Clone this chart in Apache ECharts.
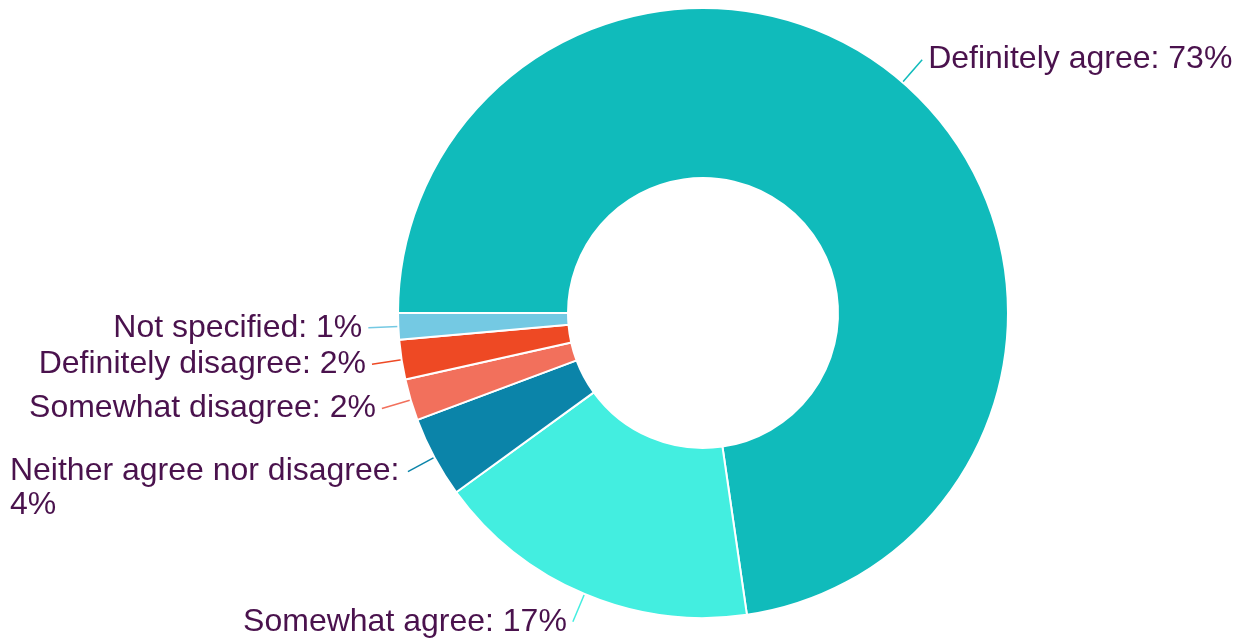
<!DOCTYPE html>
<html>
<head>
<meta charset="utf-8">
<script src="https://cdn.jsdelivr.net/npm/echarts@6/dist/echarts.min.js"></script>
<style>
  html, body { margin: 0; padding: 0; background: #ffffff; }
  #chart { width: 1237px; height: 644px; }
</style>
</head>
<body>
<div id="chart"></div>
<script>
// Survey responses (share of respondents, %)
const categories = [
  'Definitely agree',
  'Somewhat agree',
  'Neither agree nor disagree',
  'Somewhat disagree',
  'Definitely disagree',
  'Not specified'
];
const shares = [72.7, 17.3, 4.3, 2.2, 2.1, 1.4];
const sliceColors = ['#10BBBB', '#43EEE0', '#0B84A9', '#F2705C', '#EE4924', '#74C9E3'];
// Labels too long for the left margin are split after the colon
const twoLineLabels = ['Neither agree nor disagree'];

const FONT = '"Liberation Sans", Arial, sans-serif';
const TEXT_COLOR = '#4A124D';

const data = categories.map((name, i) => {
  const item = { name: name, value: shares[i], itemStyle: { color: sliceColors[i] } };
  if (twoLineLabels.indexOf(name) >= 0) {
    item.label = {
      formatter: p => '{w|' + p.name + ':}\n{w|' + Math.round(p.value) + '%}',
      padding: [34, 0, 0, 0],
      rich: {
        w: { width: 392, align: 'left', fontSize: 32, lineHeight: 34, color: TEXT_COLOR, fontFamily: FONT }
      }
    };
  }
  return item;
});

const chart = echarts.init(document.getElementById('chart'), null, { renderer: 'canvas' });
chart.setOption({
  backgroundColor: '#ffffff',
  animation: false,
  series: [{
    type: 'pie',
    center: [703, 313],
    radius: [135, 305],
    startAngle: 180,
    clockwise: true,
    avoidLabelOverlap: false,
    labelLayout: { hideOverlap: false },
    itemStyle: { borderColor: '#ffffff', borderWidth: 2 },
    label: {
      show: true,
      position: 'outside',
      formatter: p => p.name + ': ' + Math.round(p.value) + '%',
      fontSize: 32,
      lineHeight: 34,
      color: TEXT_COLOR,
      fontFamily: FONT,
      distanceToLabelLine: 6
    },
    labelLine: { show: true, length: 30, length2: 0, smooth: false, lineStyle: { width: 1.5 } },
    emphasis: { disabled: true },
    data: data
  }]
});
</script>
</body>
</html>
